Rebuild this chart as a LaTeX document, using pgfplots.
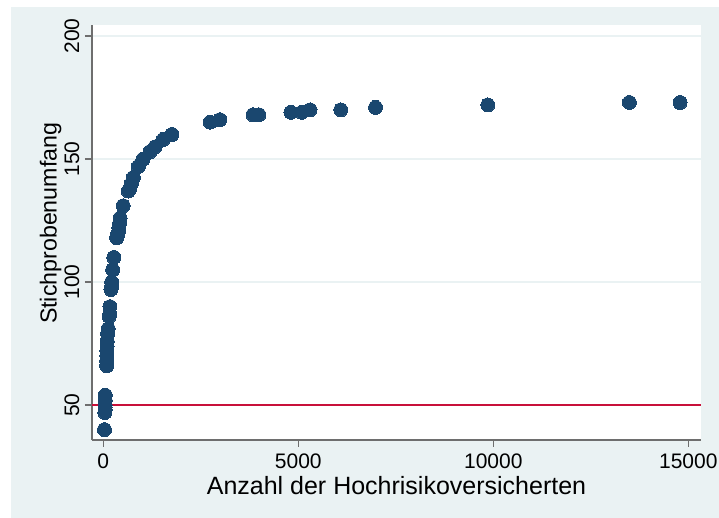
\documentclass[border=0pt]{standalone}
\usepackage{pgfplots}
\pgfplotsset{compat=1.18}
\usepackage{fontspec}
\setmainfont{Liberation Sans}
\definecolor{bgc}{HTML}{EAF2F3}
\definecolor{stnavy}{HTML}{1A476F}
\definecolor{redl}{HTML}{C8103A}
\definecolor{gridc}{HTML}{EAF2F3}
\definecolor{axc}{HTML}{6E6E6E}
\begin{document}
\begin{tikzpicture}
\useasboundingbox (0,0) rectangle (359.5pt,259pt);
\fill[bgc] (5.5pt,0) rectangle (359.5pt,255.5pt);
\begin{axis}[
  at={(46pt,39pt)}, anchor=south west,
  scale only axis, width=304.5pt, height=207.5pt,
  xmin=-290, xmax=15326, ymin=35.8, ymax=204.5,
  axis background/.style={fill=white},
  axis x line*=bottom, axis y line*=left,
  axis line style={axc, line width=0.6pt},
  tick style={axc, line width=0.6pt},
  major tick length=3.5pt, tick align=outside,
  xtick={0,5000,10000,15000}, ytick={50,100,150,200},
  scaled x ticks=false,
  /pgf/number format/.cd, set thousands separator={}, assume math mode=true, /pgfplots/.cd,
  ymajorgrids, grid style={gridc, line width=0.7pt},
  ticklabel style={font=\fontsize{10.5}{12}\selectfont},
  xticklabel style={anchor=north, inner sep=0pt, yshift=-3pt},
  yticklabel style={rotate=90, anchor=south, inner sep=0pt},
  yticklabel shift=2.6pt,
  xlabel={Anzahl der Hochrisikoversicherten},
  ylabel={Stichprobenumfang},
  xlabel style={font=\fontsize{12.5}{14}\selectfont, at={(axis description cs:0.5,0)}, anchor=center, yshift=-23pt},
  ylabel style={font=\fontsize{11.6}{13}\selectfont, at={(axis description cs:-0.068,0.522)}, anchor=center},
]
\addplot[redl, line width=0.8pt] coordinates {(-290,50) (15326,50)};
\addplot[only marks, mark=*, mark size=3.5pt, mark options={fill=stnavy, draw=stnavy, line width=0pt}] coordinates {
(30,40) (40,47) (45,48) (45,49) (45,50) (48,52) (50,54)
(85,66) (88,68) (90,70) (92,72) (95,74) (100,76) (110,79) (125,81)
(150,86) (165,87) (170,90) (195,97) (210,98) (215,100) (240,105) (270,110)
(340,118) (360,119) (380,120) (400,122) (420,124) (430,126) (510,131)
(640,137) (680,138) (720,140) (770,142.5) (900,147) (1020,150) (1200,153)
(1330,155) (1540,158) (1760,160) (2740,165) (2990,166) (3840,168) (3990,168)
(4810,169) (5090,169) (5300,170) (6090,170) (6980,171) (9860,172) (13490,173) (14790,173)
};
\end{axis}
\end{tikzpicture}
\end{document}
